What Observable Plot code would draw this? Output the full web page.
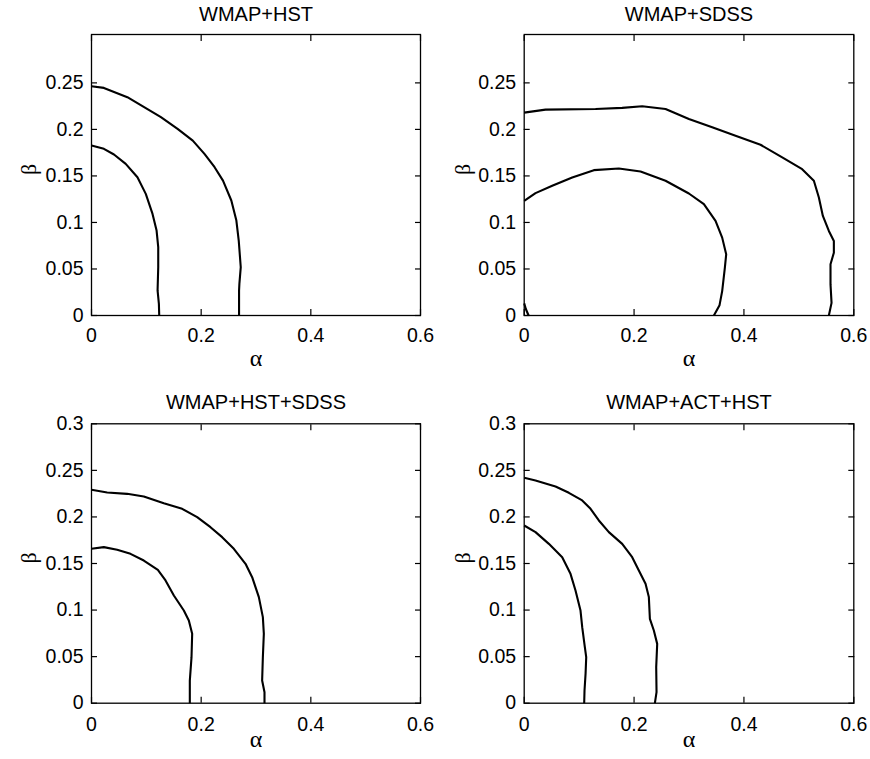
<!DOCTYPE html>
<html>
<head>
<meta charset="utf-8">
<script src="https://cdn.jsdelivr.net/npm/d3@7"></script>
<script src="https://cdn.jsdelivr.net/npm/@observablehq/plot@0.6"></script>
<style>
  html, body { margin: 0; padding: 0; background: #fff; }
  #grid { position: relative; width: 870px; height: 759px; }
  #grid svg { position: absolute; }
</style>
</head>
<body>
<div id="grid"></div>
<script>
// Panel titles (data combinations)
const titles = ["WMAP+HST", "WMAP+SDSS", "WMAP+HST+SDSS", "WMAP+ACT+HST"];

// Tick values
const alphaTicks = [0, 0.2, 0.4, 0.6];
const betaTicksTop = [0, 0.05, 0.1, 0.15, 0.2, 0.25];
const betaTicksBottom = [0, 0.05, 0.1, 0.15, 0.2, 0.25, 0.3];

// Confidence contours in the (alpha, beta) plane, [alpha, beta] pairs
const hstOuter = [[0,0.2464],[0.0226,0.2446],[0.0654,0.2346],[0.096,0.2239],[0.1266,0.2131],[0.157,0.2006],[0.1847,0.188],[0.206,0.1737],[0.2245,0.1594],[0.2398,0.145],[0.255,0.1236],[0.2642,0.102],[0.2685,0.0806],[0.2722,0.0519],[0.2697,0.034],[0.2691,0.0269],[0.2691,0]];
const hstInner = [[0,0.1827],[0.0226,0.1791],[0.041,0.173],[0.0624,0.163],[0.0838,0.1486],[0.099,0.1307],[0.1113,0.1092],[0.1187,0.0913],[0.1217,0.0734],[0.1217,0.0519],[0.1205,0.0269],[0.1229,0.0125],[0.1235,0]];

const sdssOuter = [[0,0.218],[0.0388,0.2213],[0.1299,0.222],[0.1784,0.2231],[0.2148,0.2249],[0.2573,0.222],[0.2998,0.2112],[0.3422,0.2022],[0.3847,0.1932],[0.4302,0.1835],[0.4697,0.1699],[0.506,0.1573],[0.5273,0.1448],[0.5364,0.1268],[0.5437,0.107],[0.5546,0.0909],[0.5637,0.0801],[0.5637,0.0675],[0.5576,0.055],[0.5576,0.0334],[0.5595,0.0136],[0.5546,0]];
const sdssInner = [[0,0.1232],[0.0206,0.1315],[0.051,0.1394],[0.0874,0.1483],[0.1268,0.1562],[0.1723,0.158],[0.2118,0.1548],[0.2573,0.1448],[0.2998,0.1311],[0.3271,0.1196],[0.3483,0.1017],[0.3604,0.0837],[0.3677,0.0657],[0.3653,0.0514],[0.3604,0.0262],[0.3556,0.0111],[0.3453,0]];
const sdssCorner = [[0,0.013],[0.003,0.007],[0.008,0]];

const hstSdssOuter = [[0,0.2291],[0.0286,0.2263],[0.065,0.2248],[0.0954,0.222],[0.1319,0.2148],[0.1653,0.2087],[0.1927,0.1998],[0.217,0.189],[0.2383,0.1783],[0.2596,0.1658],[0.2809,0.1497],[0.293,0.1353],[0.3052,0.1139],[0.3125,0.0924],[0.3143,0.0745],[0.3125,0.0494],[0.3112,0.0243],[0.3155,0.0118],[0.3155,0]];
const hstSdssInner = [[0,0.1658],[0.0225,0.1676],[0.0468,0.1647],[0.0711,0.1604],[0.0954,0.1532],[0.121,0.1432],[0.135,0.1318],[0.1502,0.1156],[0.1684,0.0995],[0.1775,0.0888],[0.1836,0.0745],[0.1824,0.0494],[0.1793,0.0243],[0.1793,0]];

const actOuter = [[0,0.242],[0.0206,0.2392],[0.057,0.2327],[0.0813,0.2259],[0.1056,0.2177],[0.1208,0.2087],[0.1359,0.1962],[0.1541,0.1837],[0.1784,0.1711],[0.1966,0.1568],[0.2087,0.1425],[0.2209,0.1282],[0.2269,0.1139],[0.2288,0.0906],[0.236,0.0781],[0.2421,0.0637],[0.2403,0.0387],[0.2409,0.0118],[0.2379,0]];
const actInner = [[0,0.1908],[0.0206,0.1837],[0.0449,0.1711],[0.0692,0.1568],[0.0843,0.1389],[0.0934,0.121],[0.1025,0.0995],[0.1056,0.0816],[0.1104,0.0602],[0.1129,0.0494],[0.1117,0.0315],[0.1098,0.0136],[0.1092,0]];

const contours = [
  [hstOuter, hstInner],
  [sdssOuter, sdssInner, sdssCorner],
  [hstSdssOuter, hstSdssInner],
  [actOuter, actInner]
];

// Placement of the four panels in a 2x2 grid
const topRow = {top: 0, height: 380, marginTop: 34, marginBottom: 65, yMax: 0.302, titleDy: -13.5, tickPad: 12.3, alphaDy: 50};
const bottomRow = {top: 380, height: 379, marginTop: 43.3, marginBottom: 56.3, yMax: 0.3, titleDy: -15, tickPad: 14, alphaDy: 44};
const leftCol = {left: 0, marginLeft: 91, marginRight: 15, betaDx: -63};
const rightCol = {left: 435, marginLeft: 88.7, marginRight: 16.7, betaDx: -61};
const panels = [
  {...topRow, ...leftCol, betaTicks: betaTicksTop},
  {...topRow, ...rightCol, betaTicks: betaTicksTop},
  {...bottomRow, ...leftCol, betaTicks: betaTicksBottom},
  {...bottomRow, ...rightCol, betaTicks: betaTicksBottom}
];

const fmt = d3.format("~g");
const greek = "'Liberation Serif', 'Times New Roman', serif";
const grid = document.getElementById("grid");

panels.forEach((p, i) => {
  const chart = Plot.plot({
    width: 435,
    height: p.height,
    marginLeft: p.marginLeft,
    marginRight: p.marginRight,
    marginTop: p.marginTop,
    marginBottom: p.marginBottom,
    x: {domain: [0, 0.6]},
    y: {domain: [0, p.yMax]},
    style: {
      fontFamily: "'Liberation Sans', Arial, Helvetica, sans-serif",
      fontSize: "19.5px",
      color: "#000",
      background: "#fff",
      overflow: "visible"
    },
    marks: [
      // tick labels
      Plot.axisX(alphaTicks, {anchor: "bottom", tickSize: 0, tickPadding: p.tickPad, tickFormat: fmt, label: null}),
      Plot.axisY(p.betaTicks, {anchor: "left", tickSize: 0, tickPadding: 8, tickFormat: fmt, label: null}),
      // inward ticks on every side of the box
      Plot.axisX(alphaTicks, {anchor: "bottom", tickSize: -6, fill: "none", strokeWidth: 1.2, label: null}),
      Plot.axisX(alphaTicks, {anchor: "top", tickSize: -6, fill: "none", strokeWidth: 1.2, label: null}),
      Plot.axisY(p.betaTicks, {anchor: "left", tickSize: -6, fill: "none", strokeWidth: 1.2, label: null}),
      Plot.axisY(p.betaTicks, {anchor: "right", tickSize: -6, fill: "none", strokeWidth: 1.2, label: null}),
      Plot.frame({stroke: "#000", strokeWidth: 1.3}),
      ...contours[i].map(c => Plot.line(c, {
        x: d => d[0], y: d => d[1],
        stroke: "#000", strokeWidth: 2.1, strokeLinejoin: "round", strokeLinecap: "butt"
      })),
      Plot.text([titles[i]], {text: d => d, frameAnchor: "top", dy: p.titleDy, lineAnchor: "bottom", fontSize: 20}),
      Plot.text(["α"], {text: d => d, frameAnchor: "bottom", dy: p.alphaDy, lineAnchor: "bottom",
        fontSize: 24, fontFamily: greek}),
      Plot.text(["β"], {text: d => d, frameAnchor: "left", dx: p.betaDx, rotate: -90,
        fontSize: 22, fontFamily: greek})
    ]
  });
  chart.style.left = p.left + "px";
  chart.style.top = p.top + "px";
  grid.appendChild(chart);
});
</script>
</body>
</html>
